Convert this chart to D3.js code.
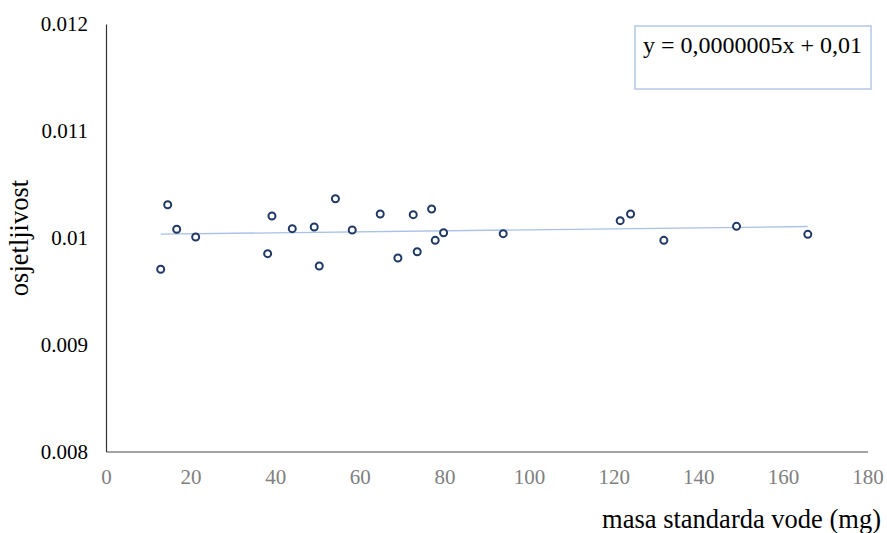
<!DOCTYPE html>
<html>
<head>
<meta charset="utf-8">
<script src="https://cdn.jsdelivr.net/npm/d3@7"></script>
<style>
  html, body { margin: 0; padding: 0; background: #fff; }
  svg { display: block; }
</style>
</head>
<body>
<svg id="chart" width="887" height="533"></svg>
<script>
// ---- data ----
const masa = [12.93, 14.58, 16.71, 21.20, 38.21, 39.23, 44.03, 49.22, 50.41, 54.23, 58.20, 64.82,
              69.00, 72.62, 73.56, 76.97, 77.82, 79.80, 93.89, 121.54, 123.99, 131.86, 149.04, 165.89];
const osjetljivost = [0.009705, 0.010309, 0.010079, 0.010007, 0.009851, 0.010204, 0.010085, 0.010101,
                      0.009736, 0.010365, 0.010072, 0.010222, 0.009811, 0.010216, 0.009869, 0.010269,
                      0.009976, 0.010047, 0.010038, 0.010160, 0.010222, 0.009976, 0.010107, 0.010032];
const xTicks = [0, 20, 40, 60, 80, 100, 120, 140, 160, 180];
const yTicks = [0.008, 0.009, 0.010, 0.011, 0.012];
const yTickLabels = ["0.008", "0.009", "0.01", "0.011", "0.012"];
const xTitle = "masa standarda vode (mg)";
const yTitle = "osjetljivost";
const equationText = "y = 0,0000005x + 0,01";

// ---- layout ----
const svg = d3.select("#chart");
const font = "Liberation Serif";
const x = d3.scaleLinear().domain([0, 180]).range([106, 867.5]);
const y = d3.scaleLinear().domain([0.008, 0.012]).range([451.5, 24]);

// x axis
const gx = svg.append("g").attr("transform", `translate(0,${y(0.008)})`)
  .call(d3.axisBottom(x).tickValues(xTicks).tickSize(0).tickPadding(18).tickFormat(d3.format("d")));
gx.select(".domain").attr("stroke", "#858585").attr("stroke-width", 1.5);
gx.selectAll("text").style("font-family", font).style("font-size", "21px").attr("fill", "#808080");

// y axis
const gy = svg.append("g").attr("transform", `translate(${x(0)},0)`)
  .call(d3.axisLeft(y).tickValues(yTicks).tickSize(0).tickPadding(18)
    .tickFormat((d, i) => yTickLabels[i]));
gy.select(".domain").attr("stroke", "#333").attr("stroke-width", 1.2);
gy.selectAll("text").style("font-family", font).style("font-size", "21px").attr("fill", "#000");

// linear trendline (least squares)
const n = masa.length;
const mx = d3.mean(masa), my = d3.mean(osjetljivost);
let sxy = 0, sxx = 0;
for (let i = 0; i < n; i++) { sxy += (masa[i]-mx)*(osjetljivost[i]-my); sxx += (masa[i]-mx)**2; }
const slope = sxy / sxx, intercept = my - slope * mx;
const xr = d3.extent(masa);
svg.append("line")
  .attr("x1", x(xr[0])).attr("y1", y(intercept + slope * xr[0]))
  .attr("x2", x(xr[1])).attr("y2", y(intercept + slope * xr[1]))
  .attr("stroke", "#a9c1e6").attr("stroke-width", 1.3);

// points
svg.append("g").selectAll("circle").data(masa).join("circle")
  .attr("cx", d => x(d)).attr("cy", (d, i) => y(osjetljivost[i]))
  .attr("r", 3.5).attr("fill", "#fff").attr("stroke", "#203864").attr("stroke-width", 2);

// equation box
svg.append("rect").attr("x", 635).attr("y", 26).attr("width", 236).attr("height", 63)
  .attr("fill", "#fff").attr("stroke", "#b4c7e7").attr("stroke-width", 1.5);
svg.append("text").attr("x", 643).attr("y", 53.3).style("font-family", font).style("font-size", "24px")
  .attr("fill", "#000").text(equationText);

// axis titles
svg.append("text").attr("x", 881).attr("y", 528).attr("text-anchor", "end")
  .style("font-family", font).style("font-size", "26.5px").attr("fill", "#000").text(xTitle);
svg.append("text").attr("transform", "translate(28,238) rotate(-90)").attr("text-anchor", "middle")
  .style("font-family", font).style("font-size", "26.5px").attr("fill", "#000").text(yTitle);
</script>
</body>
</html>
